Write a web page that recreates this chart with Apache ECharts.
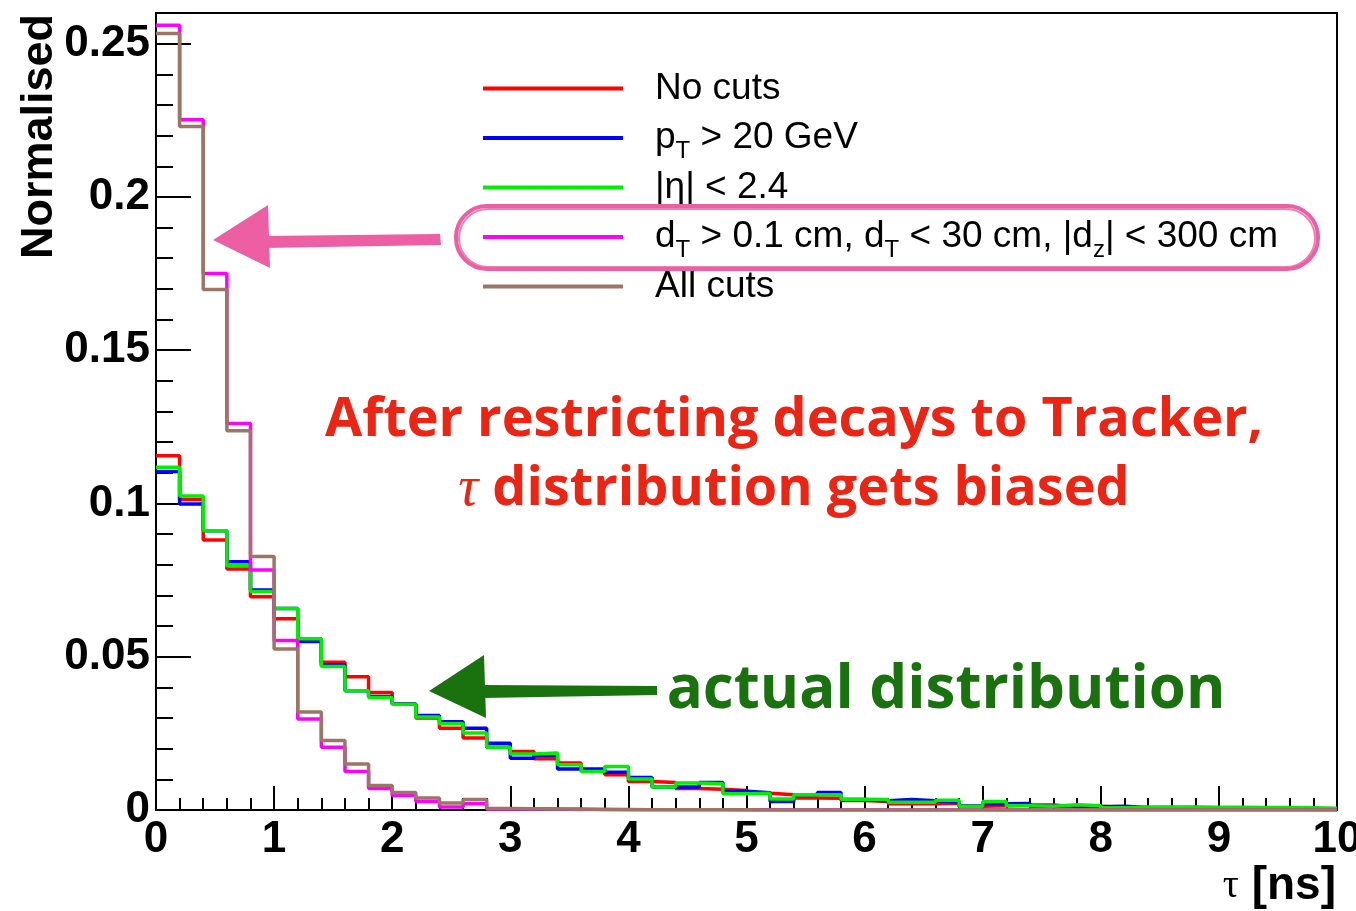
<!DOCTYPE html>
<html>
<head>
<meta charset="utf-8">
<title>Lifetime distribution</title>
<script src="https://cdn.jsdelivr.net/npm/echarts@6/dist/echarts.min.js"></script>
<style>
  html, body { margin: 0; padding: 0; background: #fff; }
  #chart { width: 1356px; height: 911px; }
</style>
</head>
<body>
<div id="chart"></div>
<script>
// Histogram binning: 50 bins of 0.2 ns from 0 to 10 ns
const binWidth = 0.2;
const nBins = 50;

const seriesNames = ['No cuts', 'pT', 'eta', 'dT', 'All cuts'];
const seriesColors = ['#ff0000', '#0000ff', '#00ee00', '#ff00ff', '#9c7565'];

// Normalised bin contents, one value per bin
const noCuts = [
  0.1156, 0.1013, 0.0881, 0.0786, 0.0696, 0.0624, 0.0559, 0.0482, 0.0435, 0.0383,
  0.0346, 0.0300, 0.0267, 0.0235, 0.0205, 0.0191, 0.0167, 0.0153, 0.0128, 0.0115,
  0.0093, 0.0090, 0.0070, 0.0068, 0.0064, 0.0055, 0.0050, 0.0039, 0.0038, 0.0031,
  0.0028, 0.0020, 0.0020, 0.0022, 0.0012, 0.0014, 0.0016, 0.0016, 0.0010, 0.0012,
  0.0008, 0.0007, 0.0008, 0.0006, 0.0007, 0.0006, 0.0005, 0.0004, 0.0005, 0.0003
];
const ptCut = [
  0.1104, 0.0998, 0.0911, 0.0810, 0.0718, 0.0657, 0.0550, 0.0473, 0.0389, 0.0370,
  0.0346, 0.0308, 0.0288, 0.0267, 0.0218, 0.0169, 0.0179, 0.0134, 0.0134, 0.0123,
  0.0106, 0.0075, 0.0075, 0.0090, 0.0061, 0.0056, 0.0028, 0.0050, 0.0057, 0.0034,
  0.0030, 0.0034, 0.0030, 0.0026, 0.0013, 0.0020, 0.0021, 0.0012, 0.0014, 0.0011,
  0.0012, 0.0008, 0.0007, 0.0008, 0.0006, 0.0007, 0.0005, 0.0004, 0.0004, 0.0003
];
const etaCut = [
  0.1118, 0.1024, 0.0911, 0.0797, 0.0713, 0.0657, 0.0559, 0.0468, 0.0389, 0.0367,
  0.0345, 0.0303, 0.0281, 0.0251, 0.0205, 0.0183, 0.0186, 0.0148, 0.0126, 0.0142,
  0.0101, 0.0075, 0.0088, 0.0086, 0.0053, 0.0055, 0.0036, 0.0050, 0.0050, 0.0035,
  0.0034, 0.0025, 0.0025, 0.0032, 0.0012, 0.0028, 0.0014, 0.0012, 0.0017, 0.0014,
  0.0007, 0.0010, 0.0010, 0.0010, 0.0009, 0.0009, 0.0008, 0.0008, 0.0007, 0.0006
];
const dispCut = [
  0.2560, 0.2252, 0.1750, 0.1261, 0.0783, 0.0553, 0.0297, 0.0205, 0.0126, 0.0070,
  0.0047, 0.0028, 0.0010, 0.0020, 0.0003, 0.0004, 0.0003, 0.0002, 0.0002, 0.0001,
  0.0001, 0.0001, 0.0001, 0.0001, 0.0000, 0.0001, 0.0000, 0.0000, 0.0000, 0.0000,
  0.0000, 0.0000, 0.0000, 0.0000, 0.0000, 0.0000, 0.0000, 0.0000, 0.0000, 0.0000,
  0.0000, 0.0000, 0.0000, 0.0000, 0.0000, 0.0000, 0.0000, 0.0000, 0.0000, 0.0000
];
const allCuts = [
  0.2533, 0.2230, 0.1698, 0.1237, 0.0827, 0.0525, 0.0320, 0.0227, 0.0150, 0.0080,
  0.0057, 0.0039, 0.0023, 0.0034, 0.0005, 0.0004, 0.0003, 0.0003, 0.0002, 0.0002,
  0.0001, 0.0001, 0.0001, 0.0001, 0.0001, 0.0000, 0.0000, 0.0000, 0.0000, 0.0000,
  0.0000, 0.0000, 0.0000, 0.0000, 0.0000, 0.0000, 0.0000, 0.0000, 0.0000, 0.0000,
  0.0000, 0.0000, 0.0000, 0.0000, 0.0000, 0.0000, 0.0000, 0.0000, 0.0000, 0.0000
];

const xTicks = [0, 1, 2, 3, 4, 5, 6, 7, 8, 9, 10];
const yTicks = [0, 0.05, 0.1, 0.15, 0.2, 0.25];

const seriesValues = [noCuts, ptCut, etaCut, dispCut, allCuts];

// Legend labels with sub-scripted quantities (rich text)
const legendLabels = {
  'No cuts': '{b|No cuts}',
  'pT': '{b|p}{s|T}{b| > 20 GeV}',
  'eta': '{b||η| < 2.4}',
  'dT': '{b|d}{s|T}{b| > 0.1 cm, d}{s|T}{b| < 30 cm, |d}{s|z}{b|| < 300 cm}',
  'All cuts': '{b|All cuts}'
};

// Step outline of a histogram: left edge of each bin, plus closing right edge
function histPoints(vals) {
  const pts = vals.map((v, i) => [+(i * binWidth).toFixed(2), v]);
  pts.push([nBins * binWidth, vals[vals.length - 1]]);
  return pts;
}

const chart = echarts.init(document.getElementById('chart'), null, { renderer: 'canvas' });

const axisFont = 'Liberation Sans, Arial, sans-serif';
const pink = '#ec5fa3';
const darkGreen = '#1a720f';
const noteRed = '#ec2414';

const option = {
  backgroundColor: '#ffffff',
  animation: false,
  grid: {
    left: 156, right: 19, top: 13, bottom: 101,
    outerBoundsMode: 'none',
    containLabel: false,
    show: true, borderColor: '#000', borderWidth: 2, backgroundColor: 'transparent'
  },
  legend: {
    orient: 'vertical',
    left: 483, top: 70,
    padding: 0,
    itemWidth: 140, itemHeight: 4, itemGap: 6,
    icon: 'rect',
    selectedMode: false,
    data: seriesNames,
    formatter: name => legendLabels[name],
    textStyle: {
      padding: [0, 0, 0, 27],
      rich: {
        b: { fontFamily: axisFont, fontSize: 37, color: '#000', lineHeight: 48 },
        s: { fontFamily: axisFont, fontSize: 24, color: '#000', lineHeight: 22, padding: [26, 0, 0, 0] }
      }
    }
  },
  xAxis: {
    type: 'value', min: 0, max: 10, interval: 1,
    axisLine: { show: true, onZero: false, lineStyle: { color: '#000', width: 2 } },
    axisTick: { show: true, inside: true, length: 24, lineStyle: { color: '#000', width: 2 } },
    minorTick: { show: true, splitNumber: 5, length: 12, lineStyle: { color: '#000', width: 2 } },
    splitLine: { show: false },
    axisLabel: {
      margin: 8,
      color: '#000', fontFamily: axisFont, fontWeight: 'bold', fontSize: 44,
      formatter: v => xTicks.includes(v) ? String(v) : ''
    }
  },
  yAxis: [
    {
      type: 'value', min: 0, max: 0.26, interval: 0.05,
      axisLine: { show: true, onZero: false, lineStyle: { color: '#000', width: 2 } },
      axisTick: { show: true, inside: true, length: 35, lineStyle: { color: '#000', width: 2 } },
      splitLine: { show: false },
      axisLabel: {
        margin: 6, showMaxLabel: false,
        color: '#000', fontFamily: axisFont, fontWeight: 'bold', fontSize: 44,
        formatter: v => yTicks.some(t => Math.abs(t - v) < 1e-9) ? String(+v.toFixed(2)) : ''
      }
    },
    {
      // secondary ticks every 0.01
      type: 'value', min: 0, max: 0.26, interval: 0.01, position: 'left', offset: 0,
      axisLine: { show: false },
      axisTick: { show: true, inside: true, length: 17, lineStyle: { color: '#000', width: 2 } },
      splitLine: { show: false },
      axisLabel: { show: false }
    }
  ],
  series: seriesNames.map((name, k) => ({
    name: name,
    type: 'line',
    step: 'end',
    symbol: 'none',
    yAxisIndex: 0,
    color: seriesColors[k],
    lineStyle: { color: seriesColors[k], width: 3.5 },
    data: histPoints(seriesValues[k]),
    z: 2 + k
  })),
  graphic: [
    // y-axis title
    {
      type: 'text', x: 40, y: 14, rotation: Math.PI / 2, z: 10,
      style: {
        text: 'Normalised', align: 'right', verticalAlign: 'middle',
        font: 'bold 45px ' + axisFont, fill: '#000'
      }
    },
    // x-axis title
    {
      type: 'text', x: 1336, y: 886, z: 10,
      style: {
        text: '{t|τ}{u| [ns]}', align: 'right', verticalAlign: 'middle',
        rich: {
          t: { fontFamily: 'Liberation Serif, DejaVu Serif, serif', fontSize: 40, fill: '#000' },
          u: { fontFamily: axisFont, fontWeight: 'bold', fontSize: 46, fill: '#000' }
        }
      }
    },
    // highlight ring around the displacement-cut legend entry
    {
      type: 'rect', z: 20,
      shape: { x: 456, y: 206, width: 862, height: 63, r: 31 },
      style: { fill: 'none', stroke: pink, lineWidth: 4 }
    },
    {
      type: 'rect', z: 20,
      shape: { x: 459, y: 209, width: 856, height: 58, r: 29 },
      style: { fill: 'none', stroke: pink, lineWidth: 2, opacity: 0.8 }
    },
    // pink arrow pointing at the displaced-cut histograms
    {
      type: 'polygon', z: 20,
      shape: { points: [[264, 236], [440, 234], [441, 245], [264, 248]] },
      style: { fill: pink }
    },
    {
      type: 'polygon', z: 20,
      shape: { points: [[213, 240], [268, 205], [270, 268]] },
      style: { fill: pink }
    },
    // green arrow pointing at the uncut distribution
    {
      type: 'polygon', z: 20,
      shape: { points: [[482, 685], [657, 686], [657, 695], [482, 698]] },
      style: { fill: darkGreen }
    },
    {
      type: 'polygon', z: 20,
      shape: { points: [[429, 691], [484, 655], [486, 718]] },
      style: { fill: darkGreen }
    },
    // annotations
    {
      type: 'text', x: 794, y: 421, z: 20,
      style: {
        text: 'After restricting decays to Tracker,', align: 'center', verticalAlign: 'middle',
        font: 'bold 54px "Open Sans", "Noto Sans", sans-serif', fill: noteRed
      }
    },
    {
      type: 'text', x: 794, y: 490, z: 20,
      style: {
        text: '{t|τ}{r| distribution gets biased}', align: 'center', verticalAlign: 'middle',
        rich: {
          t: { fontFamily: 'Liberation Serif, DejaVu Serif, serif', fontStyle: 'italic', fontSize: 56, fill: noteRed },
          r: { fontFamily: '"Open Sans", "Noto Sans", sans-serif', fontWeight: 'bold', fontSize: 54, fill: noteRed }
        }
      }
    },
    {
      type: 'text', x: 946, y: 691, z: 20,
      style: {
        text: 'actual distribution', align: 'center', verticalAlign: 'middle',
        font: 'bold 60px "Open Sans", "Noto Sans", sans-serif', fill: darkGreen
      }
    }
  ]
};

chart.setOption(option);
</script>
</body>
</html>
